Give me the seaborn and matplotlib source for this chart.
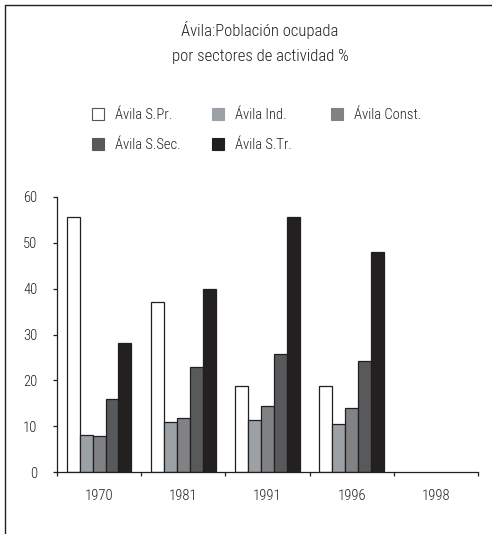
import pandas as pd
import seaborn as sns
import matplotlib.pyplot as plt
from matplotlib import font_manager as fm
from matplotlib.patches import Patch
from matplotlib.lines import Line2D

# Datos
years = ['1970', '1981', '1991', '1996', '1998']
sectors = ['Ávila S.Pr.', 'Ávila Ind.', 'Ávila Const.', 'Ávila S.Sec.', 'Ávila S.Tr.']
sp = [55.6, 37.2, 18.7, 18.7]
ind = [8.1, 11.0, 11.4, 10.4]
const = [7.8, 11.7, 14.3, 14.0]
ssec = [16.0, 22.9, 25.7, 24.3]
str_ = [28.1, 39.9, 55.7, 48.0]
colors = ['#ffffff', '#9ba1a6', '#808285', '#58595b', '#231f20']

rows = []
for vals, sec in zip([sp, ind, const, ssec, str_], sectors):
    for y, v in zip(years[:4], vals):
        rows.append({'year': y, 'sector': sec, 'value': v})
df = pd.DataFrame(rows)

# buscar una fuente estrecha parecida a la del original
installed = {f.name for f in fm.fontManager.ttflist}
narrow = 'DejaVu Sans'
for cand in ['Roboto Condensed', 'Liberation Sans Narrow', 'Archivo Narrow',
             'PT Sans Narrow', 'Fira Sans Condensed', 'IBM Plex Sans Condensed',
             'Encode Sans Condensed', 'Asap Condensed', 'Barlow Semi Condensed',
             'Open Sans Condensed', 'Ubuntu Condensed', 'Pragati Narrow']:
    if cand in installed:
        narrow = cand
        break

sns.set_style('white')
plt.rcParams['font.family'] = [narrow, 'DejaVu Sans']
plt.rcParams['font.weight'] = 'light'
txtc = '#231f20'

fig = plt.figure(figsize=(4.92, 5.34), dpi=100)
ax = fig.add_axes([57 / 492, 1 - 472 / 534, 421 / 492, 275 / 534])

sns.barplot(data=df, x='year', y='value', hue='sector', order=years,
            hue_order=sectors, palette=colors, width=0.765, gap=0,
            edgecolor='#231f20', linewidth=0.9, errorbar=None, ax=ax, legend=False)

ax.set_xlim(-0.5, 4.5)
ax.set_ylim(0, 60)
ax.set_yticks([0, 10, 20, 30, 40, 50, 60])
ax.set_xlabel('')
ax.set_ylabel('')
for s in ['top', 'right']:
    ax.spines[s].set_visible(False)
for s in ['left', 'bottom']:
    ax.spines[s].set_color('#231f20')
    ax.spines[s].set_linewidth(0.9)
ax.tick_params(axis='y', direction='out', length=3, width=0.9, color='#231f20',
               pad=11, labelsize=10.5, labelcolor=txtc, left=True)
ax.tick_params(axis='x', which='major', length=0, pad=12, labelsize=10.5,
               labelcolor=txtc)
ax.set_xticks([-0.5, 0.5, 1.5, 2.5, 3.5, 4.5], minor=True)
ax.tick_params(axis='x', which='minor', direction='out', length=3, width=0.9,
               color='#231f20', bottom=True)

fig.text(260 / 492, 1 - 30 / 534, 'Ávila:Población ocupada', ha='center', va='center',
         fontsize=12, color=txtc)
fig.text(260 / 492, 1 - 57 / 534, 'por sectores de actividad %', ha='center', va='center',
         fontsize=12, color=txtc)

# leyenda: una entrada por posición, como en el original
leg_x = [92, 212, 331, 92, 212]
leg_y = [115, 115, 115, 145, 145]
for i, (sec, c) in enumerate(zip(sectors, colors)):
    h = Patch(facecolor=c, edgecolor='#555555' if i == 0 else c, linewidth=0.8)
    leg = fig.legend([h], [sec], loc='center left',
                     bbox_to_anchor=(leg_x[i] / 492, 1 - leg_y[i] / 534),
                     frameon=False, fontsize=10.5, handlelength=0.8, handleheight=0.8,
                     handletextpad=0.8, borderpad=0, borderaxespad=0,
                     labelcolor=txtc)

# marco de la figura (solo izquierda y arriba)
fig.add_artist(Line2D([5 / 492, 5 / 492], [0, 1 - 5 / 534], transform=fig.transFigure,
                      color='#231f20', linewidth=1))
fig.add_artist(Line2D([5 / 492, 1], [1 - 5 / 534, 1 - 5 / 534], transform=fig.transFigure,
                      color='#231f20', linewidth=1))

fig.savefig('out.png', dpi=100)
